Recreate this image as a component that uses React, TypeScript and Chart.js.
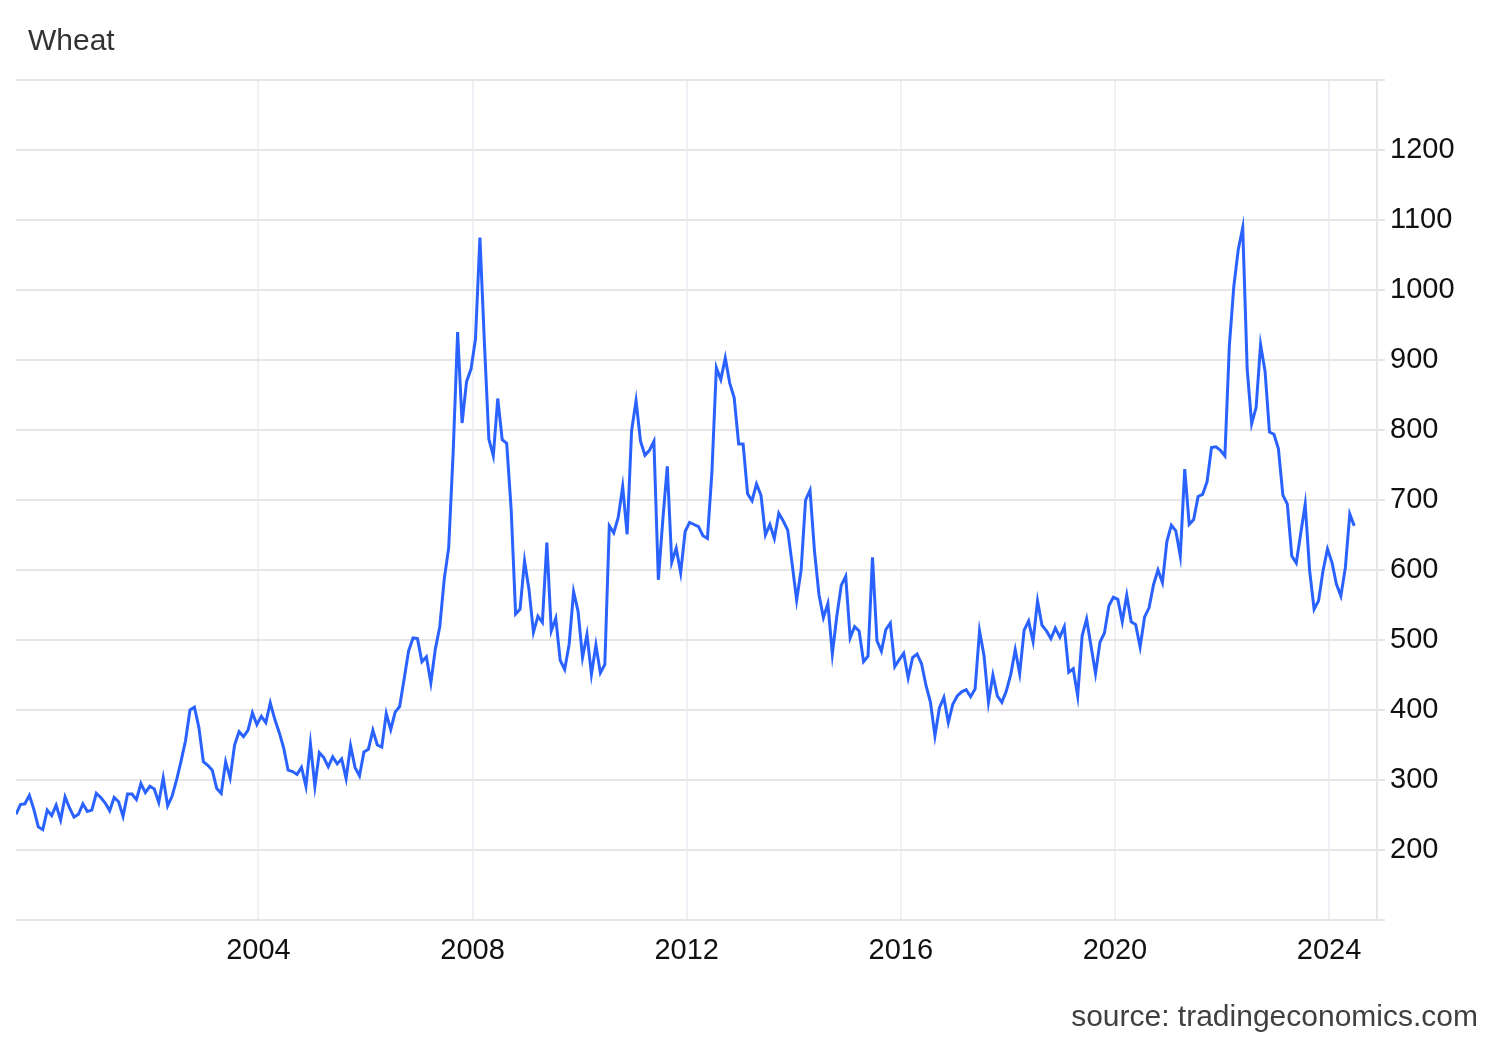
import { useEffect, useRef } from "react";
import { Chart, registerables } from "chart.js";

Chart.register(...registerables);

// Decimal year of the first monthly observation (mid 1999) and the axis span
const firstPoint = 1999.47;
const axisStart = 1999.47;
const axisEnd = 2024.895;

const yearTicks = [2004, 2008, 2012, 2016, 2020, 2024];
const priceMin = 100;
const priceMax = 1300;
const priceStep = 100;
const hiddenPriceLabels = [100, 1300];

// Monthly wheat prices (USd/Bu)
const wheat1999to2003 = [
  251, 265, 266, 278, 258, 233, 229, 257, 249, 264, 243, 276,
  260, 247, 251, 266, 255, 257, 281, 275, 267, 256, 275, 269,
  248, 280, 280, 272, 295, 282, 291, 287, 268, 303, 263, 277,
  300, 327, 356, 400, 404, 375, 326, 321, 314, 288, 281, 326,
  303, 350, 369, 362, 371, 396,
];
const wheat2004to2008 = [
  379, 391, 382, 410, 387, 368, 346, 314, 312, 308, 318, 291,
  352, 291, 339, 332, 319, 333, 323, 330, 302, 349, 318, 306,
  340, 344, 371, 350, 347, 395, 372, 397, 405, 444, 484, 503,
  502, 469, 476, 439, 487, 519, 587, 632, 768, 940, 810, 869,
  887, 930, 1075, 925, 787, 763, 845, 786, 781, 687, 537, 544,
];
const wheat2009to2013 = [
  613, 572, 511, 534, 525, 639, 513, 531, 471, 458, 494, 569,
  541, 475, 508, 451, 493, 453, 465, 663, 653, 675, 719, 651,
  799, 842, 784, 764, 771, 784, 586, 672, 748, 611, 631, 596,
  655, 668, 665, 662, 649, 645, 739, 889, 872, 903, 867, 846,
  780, 780, 709, 699, 723, 707, 650, 665, 645, 681, 670, 657,
];
const wheat2014to2018 = [
  608, 557, 600, 700, 714, 627, 565, 532, 552, 480, 534, 578,
  591, 503, 519, 513, 469, 477, 618, 499, 484, 515, 524, 462,
  472, 481, 446, 475, 480, 466, 435, 411, 363, 403, 418, 382,
  408, 420, 426, 429, 419, 430, 513, 478, 411, 450, 420, 411,
  427, 451, 486, 452, 514, 527, 498, 556, 521, 513, 502, 517,
];
const wheat2019to2024 = [
  504, 519, 454, 459, 420, 506, 530, 491, 452, 497, 510, 549,
  561, 558, 526, 564, 526, 522, 490, 533, 546, 579, 600, 582,
  641, 664, 656, 620, 744, 665, 672, 705, 708, 726, 775, 776,
  771, 763, 920, 1005, 1058, 1089, 887, 809, 832, 922, 884, 797,
  794, 773, 707, 694, 620, 610, 652, 694, 599, 544, 556, 599,
  630, 611, 580, 563, 603, 680, 663,
];

const FONT = "'Liberation Sans', Arial, sans-serif";

export default function App() {
  const ref = useRef<HTMLCanvasElement>(null);

  useEffect(() => {
    const values = [
      ...wheat1999to2003,
      ...wheat2004to2008,
      ...wheat2009to2013,
      ...wheat2014to2018,
      ...wheat2019to2024,
    ];
    const points = values.map((v, i) => ({ x: firstPoint + i / 12, y: v }));

    const chart = new Chart(ref.current as HTMLCanvasElement, {
      type: "line",
      data: {
        datasets: [
          {
            data: points,
            borderColor: "#2a62ff",
            borderWidth: 3,
            pointRadius: 0,
            tension: 0,
            fill: false,
          },
        ],
      },
      options: {
        animation: false,
        responsive: false,
        devicePixelRatio: 1,
        layout: { padding: { top: 80, left: 16, right: 0, bottom: 0 } },
        plugins: {
          legend: { display: false },
          tooltip: { enabled: false },
          title: { display: false },
        },
        scales: {
          x: {
            type: "linear",
            min: axisStart,
            max: axisEnd,
            afterBuildTicks: (s: any) => {
              s.ticks = yearTicks.map((v) => ({ value: v }));
            },
            afterFit: (s: any) => {
              s.height = 120;
            },
            ticks: {
              callback: (v: any) => String(v),
              font: { size: 29, family: FONT },
              color: "#111",
              padding: 14,
              maxRotation: 0,
              autoSkip: false,
            },
            grid: {
              color: "#eef1f5",
              lineWidth: 2,
              drawTicks: false,
            },
            border: { display: false },
          },
          y: {
            position: "right",
            min: priceMin,
            max: priceMax,
            afterFit: (s: any) => {
              s.width = 123;
            },
            ticks: {
              stepSize: priceStep,
              callback: (v: any) =>
                hiddenPriceLabels.includes(Number(v)) ? "" : String(v),
              font: { size: 29, family: FONT },
              color: "#111",
              padding: 5,
            },
            grid: {
              color: "#e6e6e6",
              lineWidth: 2,
              drawTicks: true,
              tickLength: 8,
            },
            border: { display: true, color: "#e6e6e6", width: 2 },
          },
        },
      },
    });
    return () => chart.destroy();
  }, []);

  return (
    <div
      style={{
        position: "fixed",
        left: 0,
        top: 0,
        width: 1500,
        height: 1040,
        background: "#fff",
      }}
    >
      <canvas
        ref={ref}
        width={1500}
        height={1040}
        style={{ display: "block", width: 1500, height: 1040 }}
      />
      <div
        style={{
          position: "absolute",
          left: 28,
          top: 25,
          fontFamily: FONT,
          fontSize: 30,
          lineHeight: "30px",
          color: "#333",
          whiteSpace: "nowrap",
        }}
      >
        Wheat
      </div>
      <div
        style={{
          position: "absolute",
          right: 22,
          top: 1001,
          fontFamily: FONT,
          fontSize: 30,
          lineHeight: "30px",
          color: "#404040",
          whiteSpace: "nowrap",
        }}
      >
        source: tradingeconomics.com
      </div>
    </div>
  );
}
